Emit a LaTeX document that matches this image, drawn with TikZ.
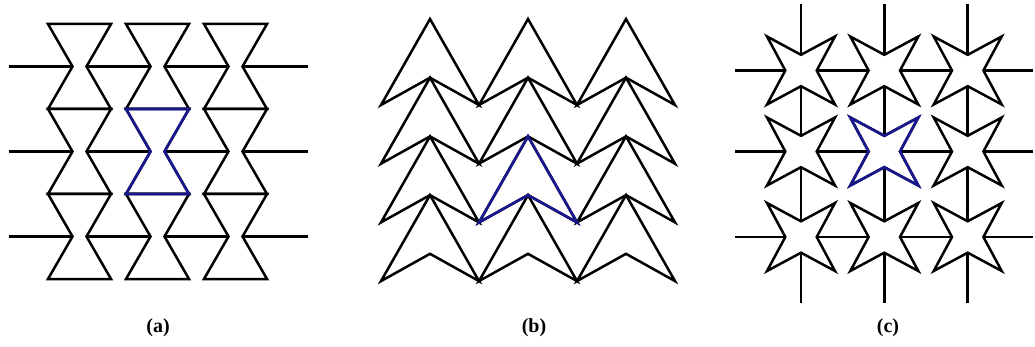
\documentclass[tikz,border=0pt]{standalone}
\usepackage{fontspec}
\setmainfont{Liberation Serif}
\definecolor{tileblue}{RGB}{24,24,140}
\begin{document}
\begin{tikzpicture}[x=1pt,y=-1pt,
  tile/.style={draw=black,line width=2.5pt,line join=miter},
  hl/.style={draw=tileblue,line width=2.7pt,line join=miter},
  grid/.style={draw=black,line width=2.5pt},
  lab/.style={font=\bfseries\fontsize{20}{24}\selectfont,inner sep=0pt}]
\useasboundingbox (0,0) rectangle (1035,347);
% ---------- (a) hourglasses ----------
\def\W{31.5}\def\w{7}
\foreach \cx in {79.5,157.5,235.5}{
  \foreach \t/\m/\b in {24/66.5/109,109/151.5/194,194/236.5/279}{
    \draw[tile] (\cx-\W,\t) -- (\cx+\W,\t) -- (\cx+\w,\m) -- (\cx+\W,\b)
      -- (\cx-\W,\b) -- (\cx-\w,\m) -- cycle;
  }
}
\foreach \m in {66.5,151.5,236.5}{
  \draw[grid] (9,\m) -- (79.5-\w,\m);
  \draw[grid] (79.5+\w,\m) -- (157.5-\w,\m);
  \draw[grid] (157.5+\w,\m) -- (235.5-\w,\m);
  \draw[grid] (235.5+\w,\m) -- (308,\m);
}
\draw[hl] (157.5-\W,109) -- (157.5+\W,109) -- (157.5+\w,151.5) -- (157.5+\W,194)
  -- (157.5-\W,194) -- (157.5-\w,151.5) -- cycle;
% ---------- (b) arrowheads ----------
\def\hw{49}\def\h{86}\def\p{58.7}
\foreach \cx in {430,528,626}{
  \foreach \r in {0,1,2,3}{
    \pgfmathsetmacro{\ya}{19+\r*\p}
    \draw[tile] (\cx,\ya) -- (\cx+\hw,\ya+\h) -- (\cx,\ya+\p) -- (\cx-\hw,\ya+\h) -- cycle;
  }
}
\pgfmathsetmacro{\yb}{19+2*\p}
\draw[hl] (528,\yb) -- (528+\hw,\yb+\h) -- (528,\yb+\p) -- (528-\hw,\yb+\h) -- cycle;
% ---------- (c) stars ----------
\def\T{34}\def\rr{15.7}
\foreach \cx in {801,884.3,967.7}{
  \draw[grid] (\cx,4) -- (\cx,70.5-\rr);
  \draw[grid] (\cx,70.5+\rr) -- (\cx,151.5-\rr);
  \draw[grid] (\cx,151.5+\rr) -- (\cx,237-\rr);
  \draw[grid] (\cx,237+\rr) -- (\cx,303);
}
\foreach \cy in {70.5,151.5,237}{
  \draw[grid] (735,\cy) -- (801-\rr,\cy);
  \draw[grid] (801+\rr,\cy) -- (884.3-\rr,\cy);
  \draw[grid] (884.3+\rr,\cy) -- (967.7-\rr,\cy);
  \draw[grid] (967.7+\rr,\cy) -- (1033,\cy);
  \foreach \cx in {801,884.3,967.7}{
    \draw[tile] (\cx+\T,\cy-\T) -- (\cx+\rr,\cy) -- (\cx+\T,\cy+\T) -- (\cx,\cy+\rr)
      -- (\cx-\T,\cy+\T) -- (\cx-\rr,\cy) -- (\cx-\T,\cy-\T) -- (\cx,\cy-\rr) -- cycle;
  }
}
\draw[hl] (884.3+\T,151.5-\T) -- (884.3+\rr,151.5) -- (884.3+\T,151.5+\T) -- (884.3,151.5+\rr)
  -- (884.3-\T,151.5+\T) -- (884.3-\rr,151.5) -- (884.3-\T,151.5-\T) -- (884.3,151.5-\rr) -- cycle;
% ---------- labels ----------
\node[lab] (la) at (158,328) {(a)};
\node[lab] (lb) at (534,328) {(b)};
\node[lab] (lc) at (888,328) {(c)};
\end{tikzpicture}
\end{document}
